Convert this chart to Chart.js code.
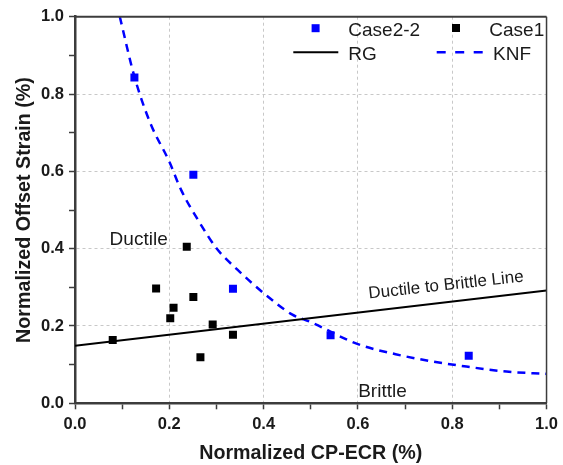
<!DOCTYPE html>
<html>
<head>
<meta charset="utf-8">
<script src="https://cdn.jsdelivr.net/npm/chart.js@4/dist/chart.umd.min.js"></script>
<style>
  html, body { margin: 0; padding: 0; background: #fff; }
  #wrap { width: 563px; height: 465px; }
</style>
</head>
<body>
<div id="wrap"><canvas id="plot" width="563" height="465"></canvas></div>
<script>
// values
const case22X = [0.126, 0.251, 0.335, 0.542, 0.835];
const case22Y = [0.843, 0.591, 0.296, 0.176, 0.123];

const case1X = [0.080, 0.172, 0.202, 0.209, 0.237, 0.251, 0.266, 0.292, 0.335];
const case1Y = [0.164, 0.297, 0.220, 0.247, 0.405, 0.275, 0.119, 0.204, 0.177];

// ductile to brittle line (RG)
const rgX = [0.0, 1.0];
const rgY = [0.149, 0.292];

// KNF fit curve, sampled along the dashed line
const knfX = [0.095, 0.126, 0.16, 0.2, 0.225, 0.265, 0.3, 0.345, 0.4, 0.46, 0.5, 0.6, 0.68, 0.75, 0.83, 0.915, 1.0];
const knfY = [1.0, 0.845, 0.724, 0.625, 0.552, 0.466, 0.401, 0.345, 0.285, 0.23, 0.21, 0.153, 0.127, 0.110, 0.095, 0.082, 0.076];

const tickLabels = ['0.0', '0.2', '0.4', '0.6', '0.8', '1.0'];

const FONT = '"Liberation Sans", Arial, sans-serif';
const BLUE = '#0000ff';
const AXIS = '#3c3c3c';
const TEXT = '#1a1a1a';

function pts(xs, ys) {
  return xs.map((x, i) => ({ x, y: ys[i] }));
}

function isMajor(v) {
  return Math.round(v * 10) % 2 === 0;
}

function tickText(v) {
  const t = (Math.round(v * 10) / 10).toFixed(1);
  return tickLabels.includes(t) && isMajor(v) ? t : '';
}

// frame, legend and region labels
const extras = {
  id: 'extras',
  afterDraw(chart) {
    const { ctx, chartArea: a, scales: { x, y } } = chart;
    ctx.save();

    // top and right frame
    ctx.strokeStyle = AXIS;
    ctx.lineWidth = 2;
    ctx.beginPath();
    ctx.moveTo(a.left, a.top);
    ctx.lineTo(a.right, a.top);
    ctx.stroke();
    ctx.lineWidth = 1.5;
    ctx.beginPath();
    ctx.moveTo(a.right, a.top);
    ctx.lineTo(a.right, a.bottom);
    ctx.stroke();

    // legend, two columns
    const ds = chart.data.datasets;
    ctx.font = '19px ' + FONT;
    ctx.fillStyle = TEXT;
    ctx.textAlign = 'left';
    ctx.textBaseline = 'alphabetic';

    ctx.fillStyle = ds[0].backgroundColor;
    ctx.fillRect(311.6, 24.2, 8, 8);
    ctx.fillStyle = TEXT;
    ctx.fillText(ds[0].label, 348.3, 35.7);

    ctx.fillStyle = ds[1].backgroundColor;
    ctx.fillRect(452, 24, 8, 8);
    ctx.fillStyle = TEXT;
    ctx.fillText(ds[1].label, 489.3, 35.7);

    ctx.strokeStyle = ds[2].borderColor;
    ctx.lineWidth = 2;
    ctx.beginPath();
    ctx.moveTo(293.3, 52.3);
    ctx.lineTo(338.3, 52.3);
    ctx.stroke();
    ctx.fillText(ds[2].label, 348.3, 60);

    ctx.strokeStyle = ds[3].borderColor;
    ctx.lineWidth = 2.5;
    ctx.setLineDash([9, 9.5]);
    ctx.beginPath();
    ctx.moveTo(436.7, 52.3);
    ctx.lineTo(483.3, 52.3);
    ctx.stroke();
    ctx.setLineDash([]);
    ctx.fillText(ds[3].label, 493, 60);

    // region labels
    ctx.textAlign = 'center';
    ctx.fillText('Ductile', x.getPixelForValue(0.135), y.getPixelForValue(0.409));
    ctx.fillText('Brittle', x.getPixelForValue(0.652), y.getPixelForValue(0.0155));

    ctx.font = '17px ' + FONT;
    ctx.translate(x.getPixelForValue(0.788), y.getPixelForValue(0.293));
    ctx.rotate(-6.3 * Math.PI / 180);
    ctx.fillText('Ductile to Brittle Line', 0, 0);

    ctx.restore();
  }
};

function axis(title, pad, fit) {
  return {
    type: 'linear',
    min: 0,
    max: 1,
    afterFit: fit,
    ticks: {
      stepSize: 0.1,
      autoSkip: false,
      maxRotation: 0,
      padding: 5,
      color: TEXT,
      font: { family: FONT, size: 16.5, weight: 'bold' },
      callback: v => tickText(v)
    },
    grid: {
      drawTicks: true,
      tickLength: 6,
      tickWidth: 1.5,
      tickColor: AXIS,
      lineWidth: 1,
      color: c => (c.tick && isMajor(c.tick.value) ? '#c8c8c8' : 'rgba(0,0,0,0)')
    },
    border: { display: true, color: AXIS, width: 2.5, dash: [3, 3] },
    title: {
      display: true,
      text: title,
      color: TEXT,
      padding: pad,
      font: { family: FONT, size: 19.7, weight: 'bold' }
    }
  };
}

new Chart(document.getElementById('plot').getContext('2d'), {
  type: 'scatter',
  data: {
    datasets: [
      {
        label: 'Case2-2',
        data: pts(case22X, case22Y),
        pointStyle: 'rect',
        pointRadius: 5.66,
        borderWidth: 0,
        backgroundColor: BLUE,
        borderColor: BLUE,
        order: 1
      },
      {
        label: 'Case1',
        data: pts(case1X, case1Y),
        pointStyle: 'rect',
        pointRadius: 5.66,
        borderWidth: 0,
        backgroundColor: '#000000',
        borderColor: '#000000',
        order: 2
      },
      {
        label: 'RG',
        data: pts(rgX, rgY),
        showLine: true,
        pointRadius: 0,
        borderWidth: 2,
        borderColor: '#000000',
        backgroundColor: '#000000',
        order: 3
      },
      {
        label: 'KNF',
        data: pts(knfX, knfY),
        showLine: true,
        pointRadius: 0,
        borderWidth: 2.5,
        borderDash: [8, 6],
        cubicInterpolationMode: 'monotone',
        borderColor: BLUE,
        backgroundColor: BLUE,
        order: 4
      }
    ]
  },
  options: {
    responsive: false,
    animation: false,
    devicePixelRatio: 1,
    layout: { padding: { top: 16.7, right: 16.3, left: 0, bottom: 0 } },
    plugins: {
      legend: { display: false },
      tooltip: { enabled: false }
    },
    scales: {
      x: axis('Normalized CP-ECR (%)', { top: 4, bottom: 0 }, s => { s.height = 61.7; }),
      y: axis('Normalized Offset Strain (%)', { top: 13, bottom: 0 }, s => { s.width = 75; })
    }
  },
  plugins: [extras]
});
</script>
</body>
</html>
